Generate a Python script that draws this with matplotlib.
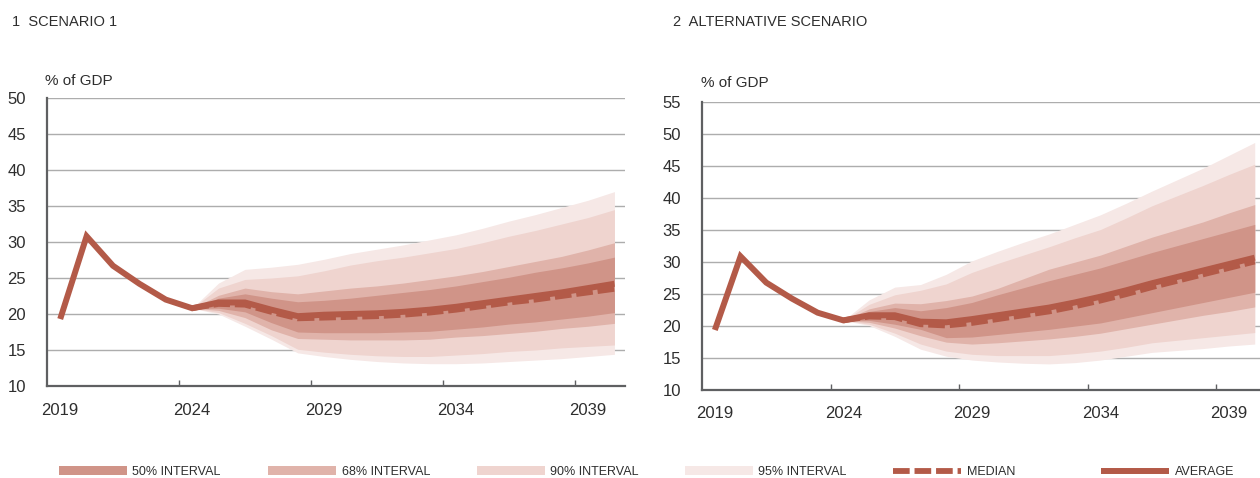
import matplotlib
matplotlib.use("Agg")
import matplotlib.pyplot as plt
from matplotlib.patches import Patch
from matplotlib.lines import Line2D
from matplotlib import font_manager
import numpy as np

plt.rcParams['lines.scale_dashes'] = False

# ---------------- data ----------------
years_all = list(range(2019, 2041))
years_fc = list(range(2024, 2041))

# panel 1: scenario 1
s1_average = [19.3, 30.8, 26.7, 24.2, 22.0, 20.8, 21.6, 21.6, 20.6, 19.7, 19.9, 20.0,
              20.1, 20.3, 20.6, 21.0, 21.5, 22.0, 22.5, 23.0, 23.6, 24.2]
s1_median = [20.8, 21.4, 21.3, 20.3, 19.4, 19.5, 19.6, 19.7, 19.9, 20.2, 20.6, 21.1,
             21.6, 22.0, 22.5, 23.0, 23.5]
s1_p95_hi = [20.8, 24.3, 26.2, 26.5, 26.9, 27.6, 28.4, 29.0, 29.6, 30.3, 31.0, 31.9,
             32.9, 33.8, 34.8, 35.8, 37.0]
s1_p90_hi = [20.8, 23.6, 24.8, 25.0, 25.3, 26.0, 26.8, 27.4, 27.9, 28.5, 29.1, 29.9,
             30.8, 31.6, 32.5, 33.4, 34.5]
s1_p68_hi = [20.8, 22.6, 23.6, 23.1, 22.8, 23.2, 23.6, 23.9, 24.3, 24.8, 25.3, 25.9,
             26.6, 27.3, 28.0, 28.9, 29.9]
s1_p50_hi = [20.8, 22.2, 22.8, 22.2, 21.7, 21.9, 22.2, 22.6, 23.0, 23.4, 23.9, 24.5,
             25.1, 25.8, 26.4, 27.1, 27.9]
s1_p50_lo = [20.8, 20.8, 20.3, 18.8, 17.5, 17.4, 17.4, 17.4, 17.5, 17.6, 17.9, 18.2,
             18.6, 18.9, 19.3, 19.7, 20.2]
s1_p68_lo = [20.8, 20.5, 19.5, 17.8, 16.6, 16.5, 16.4, 16.4, 16.4, 16.5, 16.8, 17.0,
             17.3, 17.6, 18.0, 18.3, 18.7]
s1_p90_lo = [20.8, 20.2, 18.7, 17.0, 15.1, 14.7, 14.4, 14.2, 14.1, 14.1, 14.3, 14.5,
             14.8, 15.0, 15.3, 15.5, 15.7]
s1_p95_lo = [20.8, 20.0, 18.3, 16.5, 14.6, 14.1, 13.7, 13.4, 13.2, 13.1, 13.1, 13.2,
             13.4, 13.6, 13.8, 14.1, 14.4]

# panel 2: alternative scenario
s2_average = [19.3, 30.8, 26.7, 24.2, 22.0, 20.8, 21.6, 21.6, 20.6, 20.5, 21.0, 21.6,
              22.2, 22.8, 23.6, 24.5, 25.5, 26.6, 27.6, 28.6, 29.6, 30.6]
s2_median = [20.8, 21.4, 21.3, 20.2, 20.0, 20.4, 21.0, 21.6, 22.2, 23.0, 23.9, 24.9,
             26.0, 27.0, 28.0, 29.0, 30.0]
s2_p95_hi = [20.8, 24.0, 26.0, 26.4, 28.0, 30.1, 31.6, 33.0, 34.3, 35.8, 37.3, 39.1,
             41.0, 42.8, 44.6, 46.6, 48.6]
s2_p90_hi = [20.8, 23.3, 24.8, 25.5, 26.5, 28.3, 29.7, 31.0, 32.3, 33.7, 35.0, 36.8,
             38.7, 40.3, 41.9, 43.6, 45.2]
s2_p68_hi = [20.8, 22.6, 23.5, 23.4, 23.9, 24.6, 25.8, 27.3, 28.8, 29.9, 31.0, 32.4,
             33.8, 35.0, 36.2, 37.6, 38.9]
s2_p50_hi = [20.8, 22.2, 22.8, 22.3, 22.8, 23.6, 24.8, 25.9, 27.0, 28.0, 29.0, 30.2,
             31.4, 32.5, 33.6, 34.7, 35.8]
s2_p50_lo = [20.8, 20.8, 20.2, 19.4, 18.1, 18.2, 18.6, 19.0, 19.4, 19.9, 20.4, 21.2,
             22.0, 22.8, 23.6, 24.4, 25.2]
s2_p68_lo = [20.8, 20.5, 19.6, 18.4, 17.4, 17.1, 17.3, 17.6, 17.9, 18.3, 18.8, 19.5,
             20.2, 20.9, 21.6, 22.2, 22.9]
s2_p90_lo = [20.8, 20.2, 18.8, 17.1, 16.0, 15.5, 15.3, 15.3, 15.3, 15.6, 16.0, 16.6,
             17.3, 17.7, 18.1, 18.5, 18.9]
s2_p95_lo = [20.8, 20.0, 18.3, 16.3, 15.2, 14.6, 14.3, 14.1, 14.0, 14.2, 14.6, 15.2,
             15.8, 16.1, 16.4, 16.8, 17.1]

panel_titles = ["1  SCENARIO 1", "2  ALTERNATIVE SCENARIO"]
y_unit = "% of GDP"
xtick_years = [2019, 2024, 2029, 2034, 2039]
legend_labels = ["50% INTERVAL", "68% INTERVAL", "90% INTERVAL", "95% INTERVAL",
                 "MEDIAN", "AVERAGE"]

# ---------------- style ----------------
C_LINE = "#b35a48"
C50 = "#d09488"
C68 = "#e0b3aa"
C90 = "#efd4cf"
C95 = "#f6e8e6"
GRID = "#adadad"
SPINE = "#5f6062"
TXT = "#2e2e2e"
MED_DASH = (12, 3.5)

avail = {f.name for f in font_manager.fontManager.ttflist}
BASE = "Liberation Sans"
NARROW = "Liberation Sans Narrow" if "Liberation Sans Narrow" in avail else None
plt.rcParams['font.family'] = [BASE, 'DejaVu Sans']

W, H = 1260, 478
fig = plt.figure(figsize=(W / 100, H / 100), dpi=100)


def px_axes(l, r, t, b):
    return fig.add_axes([l / W, 1 - b / H, (r - l) / W, (b - t) / H])


def draw_panel(ax, avg, med, bands, ymax):
    ax.set_xlim(2018.5, 2040.4)
    ax.set_ylim(10, ymax)
    for lo, hi, c in bands:
        ax.fill_between(years_fc, lo, hi, color=c, lw=0, zorder=2)
    ax.plot(years_fc, med, color=C_LINE, lw=4.2, dashes=MED_DASH,
            solid_capstyle='butt', zorder=4)
    ax.plot(years_all, avg, color=C_LINE, lw=4.3, solid_joinstyle='miter',
            solid_capstyle='butt', zorder=5)
    ax.set_yticks(np.arange(10, ymax + 1, 5))
    ax.set_xticks(xtick_years)
    ax.set_xticks([2023.5, 2028.5, 2033.5, 2038.5], minor=True)
    ax.tick_params(axis='x', which='major', length=0, pad=12, labelsize=12,
                   labelcolor=TXT)
    ax.tick_params(axis='x', which='minor', direction='in', length=4,
                   width=1, color=SPINE)
    ax.tick_params(axis='y', length=0, pad=15, labelsize=12, labelcolor=TXT)
    ax.yaxis.grid(True, color=GRID, lw=1.0, zorder=1)
    ax.set_axisbelow(True)
    for s in ['top', 'right']:
        ax.spines[s].set_visible(False)
    for s in ['left', 'bottom']:
        ax.spines[s].set_color(SPINE)
        ax.spines[s].set_linewidth(1.6)
        ax.spines[s].set_zorder(6)


ax1 = px_axes(47, 625, 98, 386)
draw_panel(ax1, s1_average, s1_median,
           [(s1_p95_lo, s1_p95_hi, C95), (s1_p90_lo, s1_p90_hi, C90),
            (s1_p68_lo, s1_p68_hi, C68), (s1_p50_lo, s1_p50_hi, C50)], 50)

ax2 = px_axes(702, 1265, 101.5, 389.5)
draw_panel(ax2, s2_average, s2_median,
           [(s2_p95_lo, s2_p95_hi, C95), (s2_p90_lo, s2_p90_hi, C90),
            (s2_p68_lo, s2_p68_hi, C68), (s2_p50_lo, s2_p50_hi, C50)], 55)

# titles and unit labels
fig.text(12 / W, 1 - 22 / H, panel_titles[0], fontsize=10.5, color=TXT,
         ha='left', va='center')
fig.text(673 / W, 1 - 22 / H, panel_titles[1], fontsize=10.5, color=TXT,
         ha='left', va='center')
fig.text(45 / W, 1 - 81 / H, y_unit, fontsize=11, color=TXT, ha='left', va='center')
fig.text(701 / W, 1 - 83 / H, y_unit, fontsize=11, color=TXT, ha='left', va='center')

# legend
if NARROW:
    leg_prop = {'family': NARROW, 'size': 10.5}
else:
    leg_prop = {'family': BASE, 'size': 9}
fs_px = leg_prop['size'] * 100 / 72
handles = [Patch(facecolor=C50, lw=0), Patch(facecolor=C68, lw=0),
           Patch(facecolor=C90, lw=0), Patch(facecolor=C95, lw=0),
           Line2D([], [], color=C_LINE, lw=4.2, dashes=MED_DASH, solid_capstyle='butt'),
           Line2D([], [], color=C_LINE, lw=4.3, solid_capstyle='butt')]
xs = [59, 268, 477, 685, 893, 1101]
for h, lab, x in zip(handles, legend_labels, xs):
    fig.legend(handles=[h], labels=[lab], loc='center left',
               bbox_to_anchor=(x / W, 1 - 472 / H), frameon=False,
               borderpad=0, borderaxespad=0, handlelength=68 / fs_px,
               handleheight=8.5 / fs_px, handletextpad=5.5 / fs_px,
               prop=leg_prop, labelcolor=TXT)

fig.savefig("out.png", dpi=100)
